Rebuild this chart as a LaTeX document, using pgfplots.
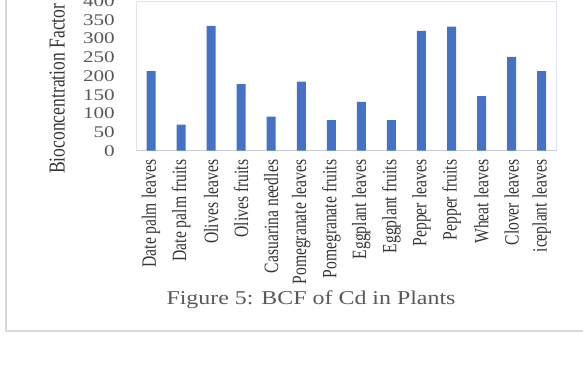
\documentclass[border=0pt]{standalone}
\usepackage{fontspec}
\setmainfont{Liberation Serif}
\usepackage{pgfplots}
\pgfplotsset{compat=1.18}

% Wide and narrow cuts of the serif face
\newfontfamily\tickfont[FakeStretch=1.3]{Liberation Serif}
\newfontfamily\titlefont[FakeStretch=1.22]{Liberation Serif}
\newfontfamily\catfont[FakeStretch=0.77]{Liberation Serif}

\definecolor{barblue}{HTML}{4472C4}
\definecolor{plotedge}{HTML}{DCE3EF}
\definecolor{baseline}{HTML}{C5CCD8}
\definecolor{ticktext}{HTML}{595959}
\definecolor{cattext}{HTML}{363636}
\definecolor{frame}{HTML}{D9D9D9}

\begin{document}
\begin{tikzpicture}
\begin{axis}[
  at={(136bp,216.3bp)}, anchor=south west,
  scale only axis,
  width=420.7bp, height=149.4bp,
  xmin=-0.5, xmax=13.5,
  ymin=0, ymax=400,
  ytick={0,50,...,400},
  xtick=data,
  xticklabels={Date palm leaves, Date palm fruits, Olives leaves, Olives fruits,
    Casuarina needles, Pomegranate leaves, Pomegranate fruits, Eggplant leaves,
    Eggplant fruits, Pepper leaves, Pepper fruits, Wheat leaves, Clover leaves,
    iceplant leaves},
  major tick length=0pt,
  axis line style={draw=plotedge, line width=0.8bp},
  /pgf/number format/assume math mode=true,
  yticklabel style={font=\tickfont\fontsize{16.3bp}{18bp}\selectfont,
    text=ticktext, inner sep=0pt, anchor=east},
  yticklabel shift=21bp,
  xticklabel style={font=\catfont\fontsize{20.3bp}{22bp}\selectfont,
    text=cattext, inner sep=0pt, rotate=90, anchor=east},
  xticklabel shift=9bp,
  ylabel={Bioconcentration Factor},
  every axis y label/.style={at={(axis description cs:-0.1876,0.415)},
    rotate=90, anchor=center,
    font=\catfont\fontsize{22.8bp}{24bp}\selectfont, text=cattext},
  extra y ticks={0},
  extra y tick labels={},
  extra y tick style={grid=major, major grid style={draw=baseline, line width=1bp}},
  ybar, bar width=9bp,
  clip=false,
]
\addplot[fill=barblue, draw=none] coordinates {
  (0,213) (1,70) (2,334) (3,178) (4,91) (5,185) (6,82)
  (7,131) (8,82) (9,321) (10,332) (11,146) (12,251) (13,213)
};
\end{axis}

% Caption under the chart
\node[font=\titlefont\fontsize{19.6bp}{22bp}\selectfont, text=ticktext,
  anchor=center] at (311bp,67bp) {Figure 5: BCF of Cd in Plants};

% Surrounding panel frame
\draw[frame, line width=2bp] (6bp,400bp) -- (6bp,36bp) -- (620bp,36bp);

\pgfresetboundingbox
\path[use as bounding box] (0,0) rectangle (583bp,367bp);
\end{tikzpicture}
\end{document}
